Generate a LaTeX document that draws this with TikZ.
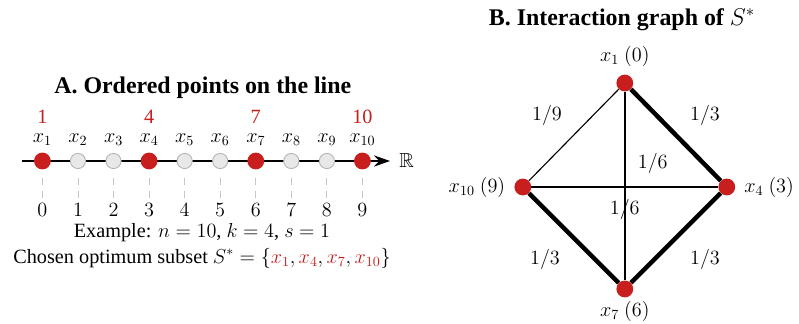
\documentclass[tikz,border=0pt]{standalone}
\usepackage{fontspec}
\setmainfont{Liberation Serif}
\usepackage{amssymb}
\usetikzlibrary{arrows.meta}
\definecolor{selred}{RGB}{200,30,30}

\begin{document}
\begin{tikzpicture}[
    pt/.style={circle, draw=gray!60, fill=gray!18, minimum size=0.38cm, inner sep=0pt, line width=0.6pt},
    sel/.style={circle, fill=selred, minimum size=0.42cm, inner sep=0pt},
    title/.style={font=\fontsize{17}{20}\selectfont\bfseries},
    lbl/.style={font=\fontsize{14.4}{17}\selectfont},
    tick/.style={gray!45, dash pattern=on 5pt off 4.5pt, line width=0.6pt},
    thinedge/.style={line width=0.8pt},
    midedge/.style={line width=1.8pt},
    thickedge/.style={line width=3.2pt},
    >={Stealth[length=0.4cm, width=0.28cm]}
]
    \useasboundingbox (0,0) rectangle (19.975,8.075);

    % Panel A: points on the line
    \node[title] (titleA) at (5.07,5.875) {A. Ordered points on the line};

    \coordinate (axstart) at (0.55,4.05);
    \coordinate (axend)   at (9.75,4.05);
    \draw[->, line width=1pt] (axstart) -- (axend);
    \node[lbl] (reals) at (10.17,4.05) {$\mathbb{R}$};

    \foreach \i/\s in {1/sel,2/pt,3/pt,4/sel,5/pt,6/pt,7/sel,8/pt,9/pt,10/sel} {
        \pgfmathtruncatemacro{\j}{\i-1}
        \node[\s] (p\i) at ({1.06+0.889*\j},4.05) {};
        \node[lbl] (l\i) at ([yshift=0.525cm]p\i.center) {$x_{\i}$};
        \draw[tick] ([yshift=-0.42cm]p\i.center) -- ([yshift=-0.95cm]p\i.center);
        \node[lbl] (n\i) at ([yshift=-1.225cm]p\i.center) {$\j$};
    }

    % Indices of the chosen points
    \foreach \i in {1,4,7,10}
        \node[lbl, text=selred] (r\i) at ([yshift=1.1cm]p\i.center) {\i};

    \node[lbl] (example) at (5.05,2.25) {Example: $n=10$, $k=4$, $s=1$};
    \node[lbl] (chosen)  at (5.05,1.625) {Chosen optimum subset
        $S^*=\{\textcolor{selred}{x_1},\textcolor{selred}{x_4},\textcolor{selred}{x_7},\textcolor{selred}{x_{10}}\}$};

    % Panel B: interaction graph
    \node[title] (titleB) at (15.55,7.575) {B. Interaction graph of $S^*$};

    \node[sel, label={[lbl, label distance=0.07cm]above:$x_1\ (0)$}]     (g1)  at (15.62,6.0) {};
    \node[sel, label={[lbl, label distance=0.1cm]left:$x_{10}\ (9)$}]   (g10) at (13.07,3.4) {};
    \node[sel, label={[lbl, label distance=0.1cm]right:$x_4\ (3)$}]     (g4)  at (18.17,3.4) {};
    \node[sel, label={[lbl, label distance=-0.03cm]below:$x_7\ (6)$}]   (g7)  at (15.62,0.85) {};

    % Edges, weighted by 1/|i-j|
    \draw[thinedge]  (g1) -- node[lbl, xshift=-0.67cm, yshift=0.5cm] {$1/9$} (g10);
    \draw[thickedge] (g1) -- node[lbl, xshift=0.73cm, yshift=0.5cm] {$1/3$} (g4);
    \draw[midedge]   (g10) -- node[lbl, yshift=-0.55cm] {$1/6$} (g4);
    \draw[midedge]   (g1) -- node[lbl, xshift=0.7cm, yshift=0.575cm] {$1/6$} (g7);
    \draw[thickedge] (g10) -- node[lbl, xshift=-0.72cm, yshift=-0.525cm] {$1/3$} (g7);
    \draw[thickedge] (g4) -- node[lbl, xshift=0.73cm, yshift=-0.525cm] {$1/3$} (g7);
\end{tikzpicture}
\end{document}
